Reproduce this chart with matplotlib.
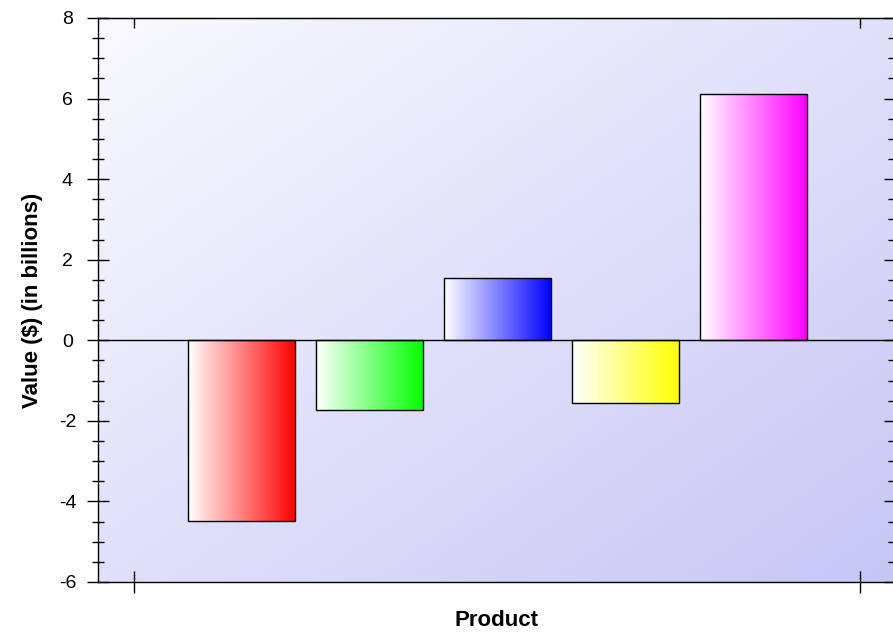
import matplotlib
matplotlib.use("Agg")
import matplotlib.pyplot as plt
import numpy as np
from matplotlib.colors import LinearSegmentedColormap

plt.rcParams['font.family'] = ['Liberation Sans', 'DejaVu Sans']
plt.rcParams['axes.unicode_minus'] = False

products = ["A", "B", "C", "D", "E"]
values = [-4.48, -1.73, 1.55, -1.56, 6.11]
colors = ["#ff0000", "#00ff00", "#0000ff", "#ffff00", "#ff00ff"]
yticks = [-6, -4, -2, 0, 2, 4, 6, 8]

fig = plt.figure(figsize=(8.93, 6.32), dpi=100)
ax = fig.add_axes([98/893, 1-582/632, 797/893, 564/632])

x = np.arange(len(values))
ax.set_xlim(-1.121, 5.105)
ax.set_ylim(-6, 8)

# background gradient (top-left light to bottom-right lavender)
gx, gy = np.meshgrid(np.linspace(0, 1, 200), np.linspace(0, 1, 200))
t = (gx + gy) / 2.0  # row 0 drawn at top with origin='upper'
c0 = np.array([250, 250, 255]) / 255.0
c1 = np.array([198, 198, 245]) / 255.0
bg = c0[None, None, :] * (1 - t[..., None]) + c1[None, None, :] * t[..., None]
ax.imshow(bg, extent=[0, 1, 0, 1], transform=ax.transAxes, aspect='auto',
          zorder=0, origin='upper')

bars = ax.bar(x, values, width=0.84, facecolor='none', edgecolor='black',
              linewidth=1.0, zorder=3)
grad = np.linspace(0, 1, 256).reshape(1, -1)
for b, col in zip(bars, colors):
    cmap = LinearSegmentedColormap.from_list('g', ['#ffffff', col])
    x0, y0 = b.get_x(), b.get_y()
    w, h = b.get_width(), b.get_height()
    im = ax.imshow(grad, cmap=cmap, extent=[x0, x0 + w, y0, y0 + h],
                   aspect='auto', zorder=2)
    im.set_clip_path(b)

ax.axhline(0, color='black', linewidth=1.0, zorder=4)

minor = np.arange(-6, 8.1, 0.5)
ax.set_yticks(yticks)
ax.set_yticklabels([str(v) for v in yticks], ha='center')
ax.set_yticks(minor, minor=True)
ax.tick_params(axis='y', which='major', direction='inout', length=16, width=1,
               labelsize=14, pad=14)
ax.tick_params(axis='y', which='minor', direction='inout', length=9, width=1)
xt = [-0.84, 4.83]
ax.set_xticks(xt)
ax.set_xticklabels(["", ""])
ax.tick_params(axis='x', which='major', direction='inout', length=16, width=1)

# top and right ticks point inward only
top = ax.secondary_xaxis('top')
top.set_xticks(xt)
top.set_xticklabels(["", ""])
top.tick_params(direction='in', length=7, width=1)
right = ax.secondary_yaxis('right')
right.set_yticks(yticks)
right.set_yticklabels([""] * len(yticks))
right.set_yticks(minor, minor=True)
right.tick_params(which='major', direction='in', length=8, width=1)
right.tick_params(which='minor', direction='in', length=5, width=1)

for s in ax.spines.values():
    s.set_linewidth(1.0)

fig.text(33/893, 1-300/632, "Value ($) (in billions)", rotation=90,
         ha='center', va='center', fontsize=16, fontweight='bold')
fig.text(496/893, 1-621/632, "Product", ha='center', va='center',
         fontsize=16, fontweight='bold')

fig.savefig("out.png", dpi=100)
